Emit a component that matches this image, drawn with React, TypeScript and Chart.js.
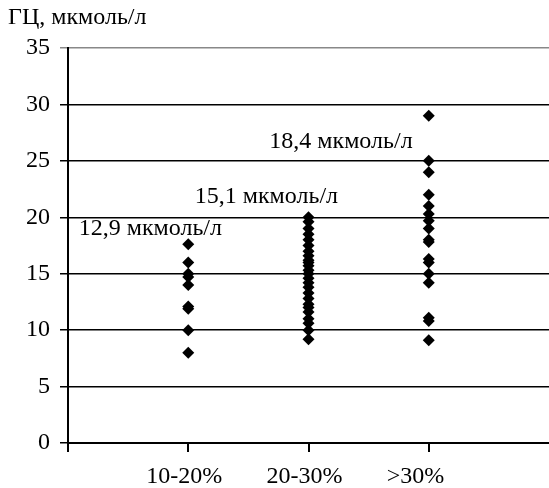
import React, { useEffect, useRef } from "react";
import { Chart, registerables } from "chart.js";

Chart.register(...registerables);

const categories = ["10-20%", "20-30%", ">30%"];
const group1 = [17.6, 16, 15, 14.7, 14, 12.1, 11.9, 10, 8];
const group2 = [20, 19.6, 19, 18.5, 18, 17.5, 17, 16.6, 16.2, 16, 15.7, 15.3, 15, 14.6, 14.2, 13.8, 13.3, 12.8, 12.3, 12, 11.6, 11, 10.6, 10, 9.2];
const group3 = [29, 25, 24, 22, 21, 20.3, 19.7, 19, 18, 17.8, 16.3, 16, 15, 14.2, 11.1, 10.8, 9.1];
const yTicks = [0, 5, 10, 15, 20, 25, 30, 35];
const meanLabels = ["12,9 мкмоль/л", "15,1 мкмоль/л", "18,4 мкмоль/л"];
const meanLabelX = [0.685, 1.65, 2.27];
const meanLabelY = [19.0, 21.8, 26.7];
const yTitle = "ГЦ, мкмоль/л";

const FONT = "'Liberation Serif', 'Times New Roman', serif";
const FS = 24;

export default function App() {
  const ref = useRef<HTMLCanvasElement | null>(null);
  useEffect(() => {
    if (!ref.current) return;
    const groups = [group1, group2, group3];
    const annot = {
      id: "annot",
      afterDraw(chart: any) {
        const ctx = chart.ctx;
        const xs = chart.scales.x;
        const ys = chart.scales.y;
        ctx.save();
        ctx.fillStyle = "#000";
        ctx.font = `${FS}px ${FONT}`;
        ctx.textAlign = "center";
        ctx.textBaseline = "middle";
        meanLabels.forEach((t, i) => {
          ctx.fillText(t, xs.getPixelForValue(meanLabelX[i]), ys.getPixelForValue(meanLabelY[i]));
        });
        ctx.textAlign = "left";
        ctx.fillText(yTitle, 8, 18);
        ctx.restore();
      },
    };
    const chart = new Chart(ref.current, {
      type: "scatter",
      data: {
        datasets: groups.map((g, i) => ({
          data: g.map((v) => ({ x: i + 1, y: v })),
          pointStyle: "rectRot",
          pointRadius: 6,
          backgroundColor: "#000",
          borderColor: "#000",
          borderWidth: 0,
        })),
      },
      options: {
        animation: false,
        responsive: false,
        layout: { autoPadding: false, padding: { top: 48, right: 0, left: 0, bottom: 0 } },
        plugins: { legend: { display: false }, tooltip: { enabled: false } },
        scales: {
          x: {
            type: "linear",
            min: 0,
            max: 4,
            afterBuildTicks: (s: any) => {
              s.ticks = [0, 1, 2, 3].map((v) => ({ value: v }));
            },
            afterFit: (s: any) => {
              s.height = 45;
              s.paddingLeft = 0;
              s.paddingRight = 0;
            },
            grid: { drawOnChartArea: false, drawTicks: true, tickLength: 9, color: "#000", lineWidth: 2 },
            border: { display: true, color: "#000", width: 2 },
            ticks: {
              autoSkip: false,
              maxRotation: 0,
              align: "start",
              labelOffset: -42,
              padding: 10,
              color: "#000",
              font: { family: FONT, size: FS },
              callback: (v: any) => (v >= 1 && v <= categories.length ? categories[v - 1] : ""),
            },
          },
          y: {
            min: 0,
            max: 35,
            afterBuildTicks: (s: any) => {
              s.ticks = yTicks.map((v) => ({ value: v }));
            },
            afterFit: (s: any) => {
              s.width = 68;
            },
            grid: {
              drawTicks: true,
              tickLength: 8,
              color: (c: any) => (c.tick && c.tick.value === 35 ? "#888" : "#000"),
              lineWidth: 1.5,
            },
            border: { display: true, color: "#000", width: 2 },
            ticks: {
              padding: 10,
              color: "#000",
              font: { family: FONT, size: FS },
            },
          },
        },
      },
      plugins: [annot],
    } as any);
    return () => chart.destroy();
  }, []);
  return (
    <div style={{ position: "fixed", left: 0, top: 0, width: 549, height: 488, background: "#fff" }}>
      <canvas ref={ref} width={549} height={488} style={{ width: 549, height: 488 }} />
    </div>
  );
}
